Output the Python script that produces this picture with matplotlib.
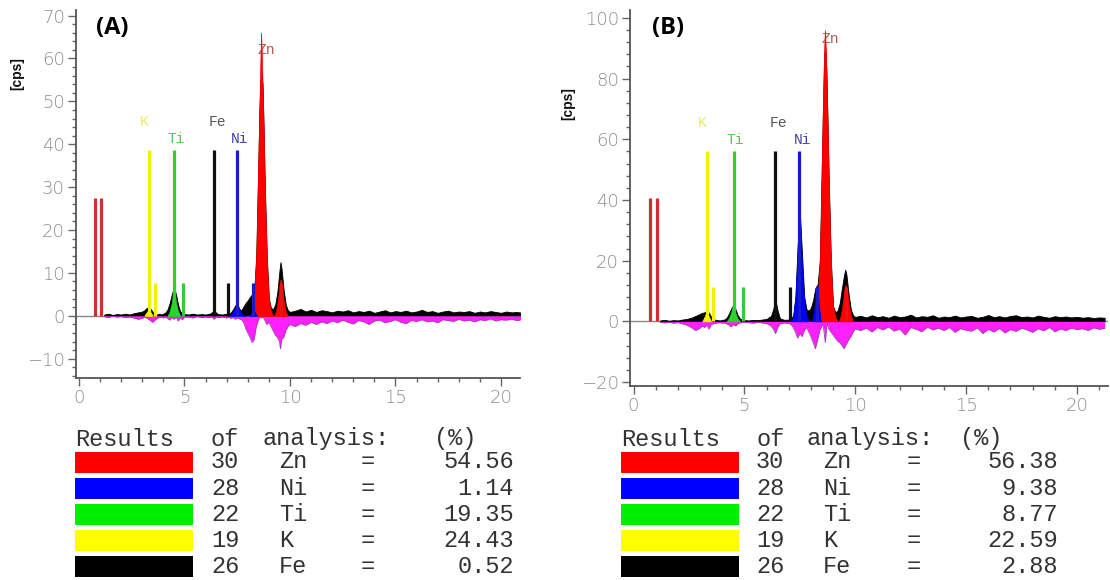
"""EDX spectra (A) and (B) with results tables."""
import matplotlib
matplotlib.use("Agg")
import matplotlib.pyplot as plt
from matplotlib.patches import Rectangle
from matplotlib.ticker import MultipleLocator

# energy axis of the measured spectra [keV]
energy = [1.2, 1.4, 1.6, 1.8, 2.0, 2.2, 2.4, 2.6, 2.8, 3.0,
          3.1, 3.2, 3.3, 3.4, 3.5, 3.6, 3.7, 3.8, 3.9, 4.0,
          4.1, 4.2, 4.3, 4.4, 4.5, 4.6, 4.7, 4.8, 4.9, 5.0,
          5.2, 5.4, 5.6, 5.8, 6.0, 6.2, 6.3, 6.4, 6.5, 6.6,
          6.8, 7.0, 7.1, 7.2, 7.3, 7.4, 7.5, 7.6, 7.7, 7.8,
          7.9, 8.0, 8.1, 8.2, 8.3, 8.4, 8.5, 8.55, 8.6, 8.65,
          8.7, 8.75, 8.8, 8.9, 9.0, 9.1, 9.2, 9.3, 9.4, 9.5,
          9.55, 9.6, 9.7, 9.8, 9.9, 10.0,
          10.25, 10.5, 10.75, 11.0, 11.25, 11.5, 11.75, 12.0, 12.25, 12.5,
          12.75, 13.0, 13.25, 13.5, 13.75, 14.0, 14.25, 14.5, 14.75, 15.0,
          15.25, 15.5, 15.75, 16.0, 16.25, 16.5, 16.75, 17.0, 17.25, 17.5,
          17.75, 18.0, 18.25, 18.5, 18.75, 19.0, 19.25, 19.5, 19.75, 20.0,
          20.25, 20.5, 20.75, 21.0, 21.25]

# measured spectrum [cps]
counts_A = [0.3, 0.5, 0.2, 0.4, 0.3, 0.5, 0.3, 0.6, 0.8, 1.0,
            1.3, 1.8, 2.0, 1.6, 0.9, 0.6, 0.3, 0.5, 0.3, 0.5,
            0.8, 1.5, 3.0, 5.0, 6.6, 5.0, 2.5, 1.0, 0.6, 0.4,
            0.3, 0.5, 0.3, 0.4, 0.3, 0.5, 0.8, 1.4, 0.7, 0.4,
            0.3, 0.5, 0.4, 0.8, 1.5, 2.4, 2.8, 1.6, 1.3, 2.2,
            3.0, 3.6, 4.4, 5.0, 5.5, 14.0, 36.0, 48.0, 55.0, 56.0,
            54.0, 44.0, 32.0, 14.0, 4.0, 1.8, 1.6, 2.6, 5.5, 10.5,
            12.5, 11.0, 6.0, 2.6, 1.3, 0.9,
            1.2, 1.6, 1.0, 1.4, 0.9, 1.3, 1.1, 0.8, 1.2, 1.0,
            1.3, 0.8, 1.1, 0.9, 1.2, 0.7, 1.0, 1.3, 0.8, 1.1,
            0.9, 1.2, 0.8, 1.0, 1.4, 0.9, 1.1, 0.7, 1.0, 1.2,
            0.8, 1.0, 0.9, 1.1, 0.7, 1.0, 0.8, 1.1, 0.9, 0.7,
            1.0, 0.8, 0.9, 0.7, 0.8]
resid_A = [-0.2, -0.4, -0.1, -0.3, -0.2, -0.4, -0.3, -0.5, -0.8, -0.6,
           -0.3, -0.5, -0.8, -1.2, -1.5, -1.0, -0.6, -0.4, -0.3, -0.5,
           -0.3, -0.6, -1.0, -0.4, -0.8, -0.3, -1.2, -0.5, -0.9, -0.3,
           -0.3, -0.5, -0.2, -0.4, -0.3, -0.4, -0.3, -0.8, -0.3, -0.4,
           -0.3, -0.5, -0.3, -0.6, -0.4, -0.8, -0.5, -0.7, -0.9, -1.5,
           -3.0, -4.0, -5.0, -6.2, -5.5, -2.5, -1.0, -0.5, -0.3, -0.5,
           -0.3, -0.5, -1.0, -2.0, -1.5, -2.5, -3.5, -4.5, -5.0, -6.0,
           -7.7, -5.5, -5.0, -3.5, -2.5, -2.0,
           -2.5, -1.8, -2.2, -1.5, -2.0, -1.4, -1.8, -1.2, -1.6, -1.0,
           -1.5, -1.9, -1.1, -1.4, -2.0, -1.2, -1.0, -1.6, -1.3, -0.9,
           -1.5, -1.8, -1.1, -1.3, -0.9, -1.4, -1.2, -1.6, -0.9, -1.1,
           -1.3, -0.8, -1.2, -1.0, -1.4, -0.9, -1.1, -0.7, -1.2, -0.9,
           -1.0, -0.8, -1.1, -0.9, -0.8]
counts_B = [0.3, 0.5, 0.2, 0.4, 0.3, 0.6, 0.8, 1.2, 1.8, 2.5,
            2.8, 3.0, 3.5, 2.8, 1.5, 0.8, 0.5, 0.4, 0.3, 0.5,
            0.6, 1.2, 2.5, 4.2, 5.5, 4.0, 2.0, 0.9, 0.5, 0.4,
            0.3, 0.5, 0.4, 0.6, 0.8, 1.8, 4.0, 7.0, 3.5, 1.0,
            0.5, 0.6, 0.8, 2.0, 8.0, 25.0, 36.0, 22.0, 8.0, 4.0,
            3.5, 4.5, 7.0, 11.0, 12.0, 20.0, 55.0, 72.0, 88.0, 90.0,
            82.0, 66.0, 48.0, 20.0, 5.0, 3.0, 3.5, 6.0, 11.0, 15.5,
            17.0, 15.5, 9.0, 4.0, 2.0, 1.5,
            1.8, 1.3, 2.0, 1.4, 1.7, 1.2, 1.9, 1.4, 1.6, 2.2,
            1.3, 1.7, 1.5, 2.0, 1.2, 1.6, 1.4, 1.9, 1.3, 1.6,
            1.8, 1.2, 1.5, 2.1, 1.4, 1.7, 1.3, 1.8, 2.0, 1.4,
            1.6, 1.3, 1.9, 1.5, 1.2, 1.7, 1.4, 1.6, 1.3, 1.5,
            1.2, 1.4, 1.1, 1.3, 1.2]
resid_B = [-0.3, -0.5, -0.3, -0.6, -0.4, -0.8, -1.2, -2.0, -3.0, -2.2,
           -1.5, -2.0, -1.2, -2.5, -1.0, -0.8, -0.6, -0.5, -0.4, -0.6,
           -0.5, -0.8, -1.2, -1.8, -1.0, -1.5, -0.8, -0.5, -0.4, -0.3,
           -0.4, -0.6, -0.3, -0.5, -0.7, -1.5, -2.5, -4.0, -2.0, -0.8,
           -0.5, -0.7, -1.0, -2.0, -3.5, -5.5, -4.0, -5.0, -3.0, -2.0,
           -3.5, -5.0, -7.0, -9.0, -6.0, -3.0, -1.5, -1.0, -4.0, -7.0,
           -2.0, -1.0, -2.5, -3.5, -4.5, -5.5, -6.5, -7.0, -8.0, -9.0,
           -8.0, -7.5, -6.0, -5.0, -3.5, -2.5,
           -3.0, -2.2, -3.5, -2.0, -2.8, -1.8, -3.2, -2.5, -4.5, -2.0,
           -2.6, -3.4, -1.9, -2.8, -2.2, -3.0, -2.0, -3.6, -2.4, -2.9,
           -3.2, -2.1, -4.0, -2.6, -3.5, -2.3, -3.8, -2.7, -3.3, -2.2,
           -2.8, -3.6, -2.4, -3.1, -2.0, -3.4, -2.5, -3.0, -2.2, -2.7,
           -2.4, -3.0, -2.1, -2.6, -2.3]

# fitted element peaks [keV] / [cps]
zn_ka_e = [8.2, 8.3, 8.4, 8.45, 8.5, 8.55, 8.6, 8.63, 8.66, 8.7, 8.75, 8.8, 8.85, 8.9, 8.95, 9.0, 9.1, 9.2]
zn_ka_A = [0, 4, 14, 24, 36, 48, 60, 66, 62, 54, 44, 32, 22, 14, 8, 4, 1, 0]
zn_ka_B = [0, 6, 20, 35, 55, 75, 90, 96, 92, 82, 66, 48, 32, 20, 11, 5, 1.5, 0]
zn_kb_e = [9.25, 9.35, 9.45, 9.5, 9.55, 9.6, 9.65, 9.7, 9.8, 9.9]
zn_kb_A = [0, 1.2, 4.5, 7, 8.5, 8, 6, 3.5, 1, 0]
zn_kb_B = [0, 2, 6.5, 10, 12, 11.5, 9, 6, 1.8, 0]
ni_ka_e = [7.1, 7.2, 7.3, 7.38, 7.45, 7.48, 7.52, 7.6, 7.7, 7.8, 7.9]
ni_ka_A = [0, 0.2, 1, 1.8, 2.6, 2.8, 2.5, 1.5, 0.6, 0.1, 0]
ni_ka_B = [0, 1.5, 8, 20, 33, 37, 32, 18, 6, 1.5, 0]
ni_kb_e = [8.05, 8.15, 8.22, 8.26, 8.3, 8.38, 8.45]
ni_kb_A = [0, 0.5, 1.2, 1.5, 1.2, 0.5, 0]
ni_kb_B = [0, 4, 10, 12, 10, 4, 0]
ti_e = [4.2, 4.3, 4.4, 4.45, 4.5, 4.55, 4.6, 4.7, 4.8]
ti_A = [0, 1, 3, 5, 6.5, 5, 3, 1, 0]
ti_B = [0, 1, 2.8, 4.5, 5.5, 4.2, 2.6, 0.8, 0]
k_e = [3.1, 3.2, 3.3, 3.4, 3.5]
k_A = [0, 0.8, 1.3, 0.8, 0]
k_B = [0, 1.5, 3.2, 1.5, 0]

# element line markers
line_names = ["K", "Ti", "Fe", "Ni"]
line_alpha = [3.31, 4.51, 6.40, 7.48]
line_beta = [3.59, 4.93, 7.06, 8.26]
zn_beta = 9.57
zn_l_lines = [0.76, 1.05]
marker_A = [38.6, 7.7, 27.5]   # alpha, beta, L heights
marker_B = [56.3, 11.4, 40.5]

# results of analysis
res_z = [30, 28, 22, 19, 26]
res_el = ["Zn", "Ni", "Ti", "K", "Fe"]
res_A = [54.56, 1.14, 19.35, 24.43, 0.52]
res_B = [56.38, 9.38, 8.77, 22.59, 2.88]

LINE_COL = {"K": "#f2f200", "Ti": "#33cc33", "Fe": "#111111", "Ni": "#1a1acc"}
LABEL_COL = {"K": "#e8e870", "Ti": "#55c855", "Fe": "#555555", "Ni": "#4545a5"}
BOX_COL = ["#ff0000", "#0000ff", "#00ee00", "#ffff00", "#000000"]

W, H = 1110, 580


def fx(px):
    return px / W


def fy(py):
    return 1 - py / H


def draw_spectrum(ax, counts, resid, fits, marks, ylim, ymaj, ymin, xlim, zn_y):
    ax.axhline(0, color="#8a8a8a", lw=1.0, zorder=1)
    ax.fill_between(energy, 0, counts, color="black", lw=0.6, zorder=2)
    ax.fill_between(energy, 0, resid, color="#ff20ff", lw=0, zorder=3)
    ax.plot(energy, resid, color="#a040b0", lw=0.6, zorder=3)
    for e, v, c in fits:
        ax.fill_between(e, 0, v, color=c, lw=0.5, zorder=4)

    h_a, h_b, h_l = marks
    for name, ea, eb in zip(line_names, line_alpha, line_beta):
        ax.vlines([ea], 0, h_a, color=LINE_COL[name], lw=2.3, zorder=5)
        ax.vlines([eb], 0, h_b, color=LINE_COL[name], lw=2.3, zorder=5)
    ax.vlines([zn_beta], 0, h_b, color="#ee1111", lw=2.3, zorder=5)
    ax.vlines(zn_l_lines, 0, h_l, color="#cc3030", lw=2.3, zorder=5)

    # element labels above the markers
    offs = {"K": (-5, 28), "Ti": (2, 11), "Fe": (3, 28), "Ni": (3, 11)}
    for name, ea in zip(line_names, line_alpha):
        dx, dy = offs[name]
        ax.annotate(name, (ea, h_a), xytext=(dx, dy), textcoords="offset pixels",
                    ha="center", va="center", fontsize=10.5, family="Liberation Mono",
                    color=LABEL_COL[name], zorder=6)
    ax.text(8.86, zn_y, "Zn", ha="center", va="center", fontsize=10.5,
            family="Liberation Mono", color="#b04848", alpha=0.9, zorder=6)

    ax.set_xlim(*xlim)
    ax.set_ylim(*ylim)
    ax.xaxis.set_major_locator(MultipleLocator(5))
    ax.xaxis.set_minor_locator(MultipleLocator(1))
    ax.yaxis.set_major_locator(MultipleLocator(ymaj))
    ax.yaxis.set_minor_locator(MultipleLocator(ymin))
    for s in ["top", "right"]:
        ax.spines[s].set_visible(False)
    for s in ["left", "bottom"]:
        ax.spines[s].set_color("#555555")
        ax.spines[s].set_linewidth(1.3)
    ax.tick_params(which="major", length=6, width=1, color="#666666",
                   labelcolor="#8c8c8c", labelsize=13, pad=2)
    ax.tick_params(which="minor", length=3, width=1, color="#666666")
    for lbl in ax.get_xticklabels() + ax.get_yticklabels():
        lbl.set_family("DejaVu Sans")
        lbl.set_fontweight("light")


def draw_table(fig, values, cols):
    box_l, box_r, of_x, an_x, pct_x, num_x, el_x, eq_x, val_x = cols
    tkw = dict(family="Liberation Mono", fontsize=17, color="#333333", va="center")
    head_y = 439
    fig.text(fx(box_l), fy(head_y), "Results", ha="left", **tkw)
    fig.text(fx(of_x), fy(head_y), "of", ha="left", **tkw)
    fig.text(fx(an_x), fy(head_y), "analysis:", ha="left", **tkw)
    fig.text(fx(pct_x), fy(head_y), "(%)", ha="left", **tkw)
    for i, (z, el, val) in enumerate(zip(res_z, res_el, values)):
        y = 462 + 26.2 * i
        fig.add_artist(Rectangle((fx(box_l), fy(y + 10.5)), fx(box_r - box_l), 21 / H,
                                 transform=fig.transFigure, facecolor=BOX_COL[i],
                                 edgecolor="none"))
        fig.text(fx(num_x), fy(y), str(z), ha="left", **tkw)
        fig.text(fx(el_x), fy(y), el, ha="left", **tkw)
        fig.text(fx(eq_x), fy(y), "=", ha="center", **tkw)
        fig.text(fx(val_x), fy(y), f"{val:.2f}", ha="right", **tkw)


def main():
    fig = plt.figure(figsize=(11.1, 5.8), dpi=100)

    ax_a = fig.add_axes([fx(76), fy(378), (520 - 76) / W, (378 - 10) / H])
    fits_a = [(zn_ka_e, zn_ka_A, "#ff0000"), (zn_kb_e, zn_kb_A, "#ff0000"),
              (ni_ka_e, ni_ka_A, "#0000ff"), (ni_kb_e, ni_kb_A, "#0000ff"),
              (ti_e, ti_A, "#22dd22"), (k_e, k_A, "#f2f200")]
    draw_spectrum(ax_a, counts_A, resid_A, fits_a, marker_A,
                  (-14.5, 71.3), 10, 2, (-0.14, 20.9), 62)

    ax_b = fig.add_axes([fx(630), fy(386), (1108 - 630) / W, (386 - 10) / H])
    fits_b = [(zn_ka_e, zn_ka_B, "#ff0000"), (zn_kb_e, zn_kb_B, "#ff0000"),
              (ni_ka_e, ni_ka_B, "#0000ff"), (ni_kb_e, ni_kb_B, "#0000ff"),
              (ti_e, ti_B, "#22dd22"), (k_e, k_B, "#f2f200")]
    draw_spectrum(ax_b, counts_B, resid_B, fits_b, marker_B,
                  (-21.3, 102.6), 20, 4, (-0.16, 21.4), 93)

    for ax, lab, cps_x, cps_y, lab_x in [(ax_a, "(A)", 17, 74, 112), (ax_b, "(B)", 568, 104, 668)]:
        fig.text(fx(cps_x), fy(cps_y), "[cps]", rotation=90, ha="center", va="center",
                 fontsize=10, fontweight="bold", family="Liberation Sans", color="#111111")
        fig.text(fx(lab_x), fy(28), lab, ha="center", va="center", fontsize=17,
                 fontweight="bold", family="Open Sans", color="black")

    draw_table(fig, res_A, (75, 193, 211, 262, 434, 211, 279, 368, 514))
    draw_table(fig, res_B, (621, 739, 756, 807, 960, 756, 823, 914, 1058))

    fig.savefig("out.png", dpi=100)
    plt.close(fig)


if __name__ == "__main__":
    main()
